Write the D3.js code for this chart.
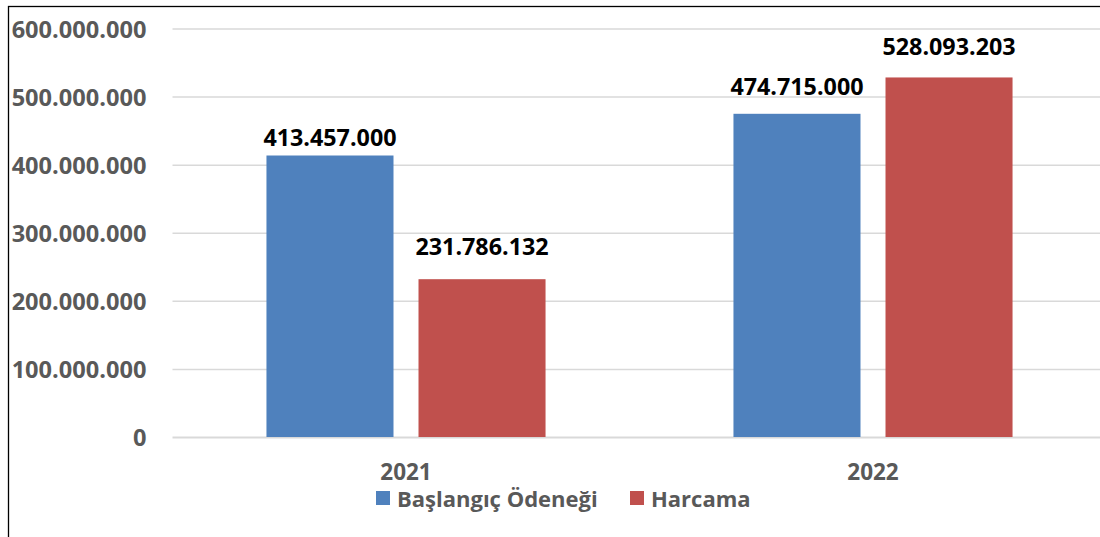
<!DOCTYPE html>
<html>
<head>
<meta charset="utf-8">
<script src="https://cdn.jsdelivr.net/npm/d3@7"></script>
<style>
  html, body { margin: 0; padding: 0; background: #fff; overflow: hidden; }
  svg { display: block; font-family: 'Open Sans', sans-serif; font-weight: 700; }
</style>
</head>
<body>
<svg id="chart" width="1100" height="537"></svg>
<script>
'use strict';

const years = ['2021', '2022'];
const seriesNames = ['Başlangıç Ödeneği', 'Harcama'];
const baslangic = [413457000, 474715000];
const harcama = [231786132, 528093203];
const yTicks = [0, 100000000, 200000000, 300000000, 400000000, 500000000, 600000000];

const colors = ['#4F81BD', '#C0504D'];
// label lift above each bar, per year then series (as placed in the original)
const labelLift = [[10, 24], [19, 22]];

const svg = d3.select('#chart');

const y = d3.scaleLinear()
  .domain([0, 600000000])
  .range([437, 28.5]);

const x0 = d3.scaleBand()
  .domain(years)
  .range([172.5, 1106.5])
  .padding(0);

const x1 = d3.scaleBand()
  .domain(seriesNames)
  .range([0, x0.bandwidth()])
  .paddingInner(0.1645)
  .paddingOuter(0.618);

const fmt = v => d3.format(',')(v).replace(/,/g, '.');

// frame (only top and left edges fall inside the window)
svg.append('rect')
  .attr('x', 8.5)
  .attr('y', 6.5)
  .attr('width', 1300)
  .attr('height', 700)
  .attr('fill', 'none')
  .attr('stroke', '#000')
  .attr('stroke-width', 1.3);

// grid + y labels
const yAxis = svg.append('g')
  .attr('transform', 'translate(172.5,0)')
  .call(d3.axisLeft(y)
    .tickValues(yTicks)
    .tickSize(-940)
    .tickPadding(26)
    .tickFormat(fmt));

yAxis.select('.domain').remove();
yAxis.selectAll('.tick line')
  .attr('stroke', '#d9d9d9')
  .attr('stroke-width', d => d === 0 ? 1.8 : 1.5);
yAxis.selectAll('.tick text')
  .attr('fill', '#595959')
  .attr('dy', '0.36em')
  .style('font-family', "'Open Sans', sans-serif")
  .style('font-weight', 700)
  .style('font-size', '23.6px');

const table = years.map((yr, i) => ({
  year: yr,
  values: [baslangic[i], harcama[i]]
}));

const groups = svg.append('g')
  .selectAll('g')
  .data(table)
  .enter().append('g')
  .attr('transform', d => `translate(${x0(d.year)},0)`);

groups.selectAll('rect')
  .data(d => d.values.map((v, j) => ({ name: seriesNames[j], value: v, j })))
  .enter().append('rect')
  .attr('x', d => x1(d.name))
  .attr('y', d => y(d.value))
  .attr('width', x1.bandwidth())
  .attr('height', d => y(0) - y(d.value))
  .attr('fill', d => colors[d.j]);

groups.each(function (d, i) {
  d3.select(this).selectAll('text.val')
    .data(d.values.map((v, j) => ({ name: seriesNames[j], value: v, j })))
    .enter().append('text')
    .attr('class', 'val')
    .attr('x', e => x1(e.name) + x1.bandwidth() / 2)
    .attr('y', e => y(e.value) - labelLift[i][e.j])
    .attr('text-anchor', 'middle')
    .attr('fill', '#000')
    .style('font-size', '23.3px')
    .text(e => fmt(e.value));
});

// category labels
svg.append('g')
  .selectAll('text')
  .data(years)
  .enter().append('text')
  .attr('x', d => x0(d) + x0.bandwidth() / 2)
  .attr('y', 480)
  .attr('text-anchor', 'middle')
  .attr('fill', '#595959')
  .style('font-size', '22.5px')
  .text(d => d);

// legend
const legendX = [376, 630];
const legend = svg.append('g')
  .selectAll('g')
  .data(seriesNames)
  .enter().append('g')
  .attr('transform', (d, i) => `translate(${legendX[i]},491)`);

legend.append('rect')
  .attr('width', 14)
  .attr('height', 14)
  .attr('fill', (d, i) => colors[i]);

legend.append('text')
  .attr('x', 21)
  .attr('y', 15.5)
  .attr('fill', '#595959')
  .style('font-size', '22px')
  .text(d => d);
</script>
</body>
</html>
